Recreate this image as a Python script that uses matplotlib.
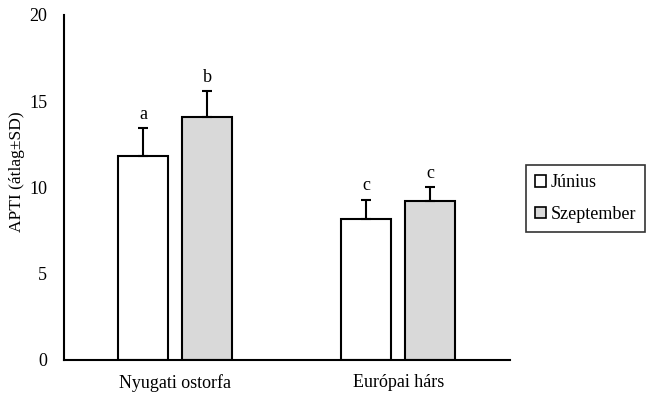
import numpy as np
import matplotlib.pyplot as plt

plt.rcParams['font.family'] = ['Liberation Serif', 'DejaVu Serif']

categories = ['Nyugati ostorfa', 'Európai hárs']
series = ['Június', 'Szeptember']
means = {'Június': [11.85, 8.2], 'Szeptember': [14.1, 9.2]}
sds = {'Június': [1.6, 1.1], 'Szeptember': [1.5, 0.8]}
letters = {'Június': ['a', 'c'], 'Szeptember': ['b', 'c']}
colors = {'Június': 'white', 'Szeptember': '#d9d9d9'}

fig = plt.figure(figsize=(6.46, 3.93), dpi=100)
ax = fig.add_axes([0.099, 0.084, 0.69, 0.878])

x = np.arange(len(categories))
width = 0.224
offsets = [-0.1435, 0.1435]

for s, off in zip(series, offsets):
    pos = x + off
    ax.bar(pos, means[s], width, color=colors[s], edgecolor='black', linewidth=1.5,
           label=s, zorder=2)
    ax.errorbar(pos, means[s], yerr=[np.zeros(len(pos)), sds[s]], fmt='none',
                ecolor='black', elinewidth=1.5, capsize=3.5, capthick=1.5, zorder=3)
    for p, m, e, t in zip(pos, means[s], sds[s], letters[s]):
        ax.text(p, m + e + 0.3, t, ha='center', va='bottom', fontsize=13)

ax.set_xlim(-0.5, 1.5)
ax.set_ylim(0, 20)
ax.set_yticks([0, 5, 10, 15, 20])
ax.set_xticks(x)
ax.set_xticklabels(categories, fontsize=13)
ax.tick_params(axis='both', length=0, labelsize=13)
ax.tick_params(axis='y', pad=12)
ax.tick_params(axis='x', pad=10)
for sp in ['top', 'right']:
    ax.spines[sp].set_visible(False)
for sp in ['left', 'bottom']:
    ax.spines[sp].set_linewidth(1.5)
ax.set_ylabel('APTI (átlag±SD)', fontsize=12.5)
ax.yaxis.set_label_coords(-0.088, 0.545)

leg = ax.legend(loc='center left', bbox_to_anchor=(1.037, 0.468), frameon=True,
                fancybox=False, edgecolor='black', fontsize=13, handlelength=0.6,
                handleheight=0.6, handletextpad=0.25, borderpad=0.5, labelspacing=0.8,
                borderaxespad=0)
leg.get_frame().set_linewidth(1.2)
for h in leg.legend_handles:
    h.set_linewidth(1.2)

fig.savefig('out.png', dpi=100)
